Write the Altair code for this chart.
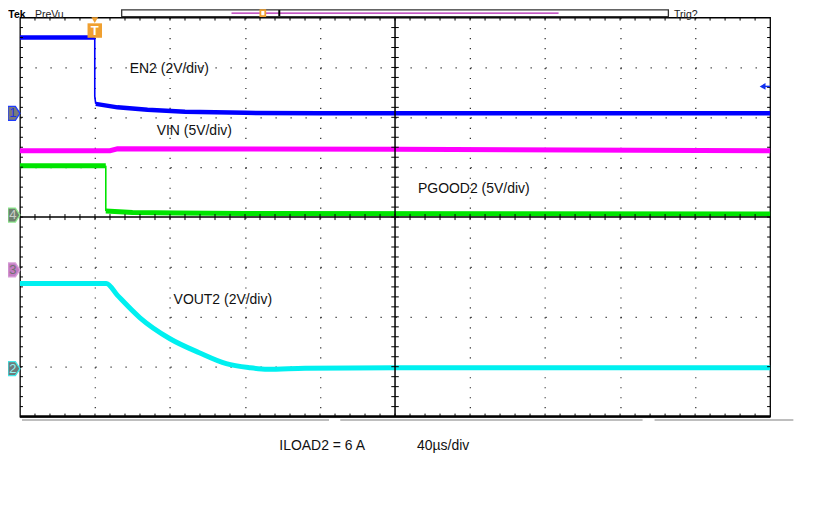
import altair as alt
import pandas as pd

# ---------------- trace data (x: time divisions 0-10, y: screen divisions 0-8) -------------
en2_hi_x = [0.0, 0.997]
en2_hi_y = [7.6, 7.6]
en2_edge_x = [0.997, 0.997, 1.01]
en2_edge_y = [7.6, 6.42, 6.27]
en2_lo_x = [1.01, 1.3, 1.7, 2.2, 3.0, 4.0, 10.0]
en2_lo_y = [6.27, 6.2, 6.15, 6.11, 6.09, 6.08, 6.08]

vin_x = [0.0, 1.2, 1.3, 5.0, 10.0]
vin_y = [5.33, 5.33, 5.37, 5.36, 5.33]

pg_hi_x = [0.0, 1.144]
pg_hi_y = [5.03, 5.03]
pg_edge_x = [1.144, 1.144]
pg_edge_y = [5.03, 4.12]
pg_lo_x = [1.144, 1.5, 2.1, 3.0, 10.0]
pg_lo_y = [4.12, 4.09, 4.08, 4.07, 4.06]

vout_x = [0.0, 1.15, 1.3, 1.6, 2.0, 2.39, 2.75, 3.06, 3.3, 3.8, 5.0, 10.0]
vout_y = [2.67, 2.67, 2.43, 1.98, 1.56, 1.28, 1.06, 0.98, 0.95, 0.97, 0.98, 0.98]

trace_names = ["EN2", "VIN", "PGOOD2", "VOUT2"]
trace_colors = ["#0000FF", "#FF00FF", "#00E400", "#00F0F0"]

# annotation texts
label_text = ["EN2 (2V/div)", "VIN (5V/div)", "PGOOD2 (5V/div)", "VOUT2 (2V/div)",
              "ILOAD2 = 6 A", "40µs/div"]
label_x = [1.463, 1.822, 5.306, 2.048, 3.457, 5.293]
label_y = [6.96, 5.72, 4.56, 2.34, -0.6, -0.6]

# channel ground markers
ch_text = ["1", "4", "3", "2"]
ch_y = [6.08, 4.04, 2.94, 0.96]
ch_fill = ["#7A7A7A", "#6F8070", "#C47CC4", "#6E7A7A"]
ch_stroke = ["#1E3CFF", "#8CE88C", "#D8A0D8", "#40E8E8"]
ch_tcolor = ["#1E32E6", "#C8D0C8", "#707070", "#8FF4F4"]

# ---------------- build tables ----------------
segments = [
    ("EN2", "en2_hi", en2_hi_x, en2_hi_y, 4.5),
    ("EN2", "en2_edge", en2_edge_x, en2_edge_y, 1.6),
    ("EN2", "en2_lo", en2_lo_x, en2_lo_y, 4.5),
    ("VIN", "vin", vin_x, vin_y, 5),
    ("PGOOD2", "pg_hi", pg_hi_x, pg_hi_y, 5),
    ("PGOOD2", "pg_edge", pg_edge_x, pg_edge_y, 1.6),
    ("PGOOD2", "pg_lo", pg_lo_x, pg_lo_y, 5),
]
rows = []
for tr, seg, xs, ys, w in segments:
    for i, (xv, yv) in enumerate(zip(xs, ys)):
        rows.append({"trace": tr, "seg": seg, "i": i, "x": xv, "y": yv, "w": w})
trace_df = pd.DataFrame(rows)
vout_df = pd.DataFrame({"x": vout_x, "y": vout_y, "trace": "VOUT2"})

XS = alt.Scale(domain=[0, 10], nice=False, zero=False)
YS = alt.Scale(domain=[0, 8], nice=False, zero=False)
CS = alt.Scale(domain=trace_names, range=trace_colors)


def X(f="x"):
    return alt.X(f"{f}:Q", scale=XS, title=None,
                 axis=alt.Axis(values=[1, 2, 3, 4, 6, 7, 8, 9], grid=True, gridColor="#000",
                               gridDash=[1.2, 8.8], gridWidth=1.2, gridOpacity=0.85,
                               labels=False, ticks=False, domain=False))


def Y(f="y"):
    return alt.Y(f"{f}:Q", scale=YS, title=None,
                 axis=alt.Axis(values=[1, 2, 3, 5, 6, 7], grid=True, gridColor="#000",
                               gridDash=[1.2, 13.84], gridWidth=1.2, gridOpacity=0.85,
                               labels=False, ticks=False, domain=False))


# graticule ticks (edges and center cross)
minor_x = [k * 0.2 for k in range(1, 50)]
minor_y = [k * 0.2 for k in range(1, 40)]
vt = []  # vertical short rules: x, y, y2
for xv in minor_x:
    vt.append({"x": xv, "y": 8.0, "y2": 7.94})
    vt.append({"x": xv, "y": 0.0, "y2": 0.06})
    vt.append({"x": xv, "y": 3.94, "y2": 4.06})
ht = []  # horizontal short rules: x, x2, y
for yv in minor_y:
    ht.append({"x": 0.0, "x2": 0.04, "y": yv})
    ht.append({"x": 10.0, "x2": 9.96, "y": yv})
    ht.append({"x": 4.95, "x2": 5.05, "y": yv})

tick_v = alt.Chart(pd.DataFrame(vt)).mark_rule(color="#000", strokeWidth=1).encode(
    x=X(), y=Y(), y2="y2:Q")
tick_h = alt.Chart(pd.DataFrame(ht)).mark_rule(color="#000", strokeWidth=1).encode(
    x=X(), x2="x2:Q", y=Y())

center = alt.Chart(pd.DataFrame([
    {"x": 5.0, "x2": 5.0, "y": 0.0, "y2": 8.0},
    {"x": 0.0, "x2": 10.0, "y": 4.0, "y2": 4.0},
])).mark_rule(color="#000", strokeWidth=1.5).encode(x=X(), x2="x2:Q", y=Y(), y2="y2:Q")

bottom = alt.Chart(pd.DataFrame([{"x": 0.0, "x2": 10.0, "y": 0.0}])).mark_rule(
    color="#000", strokeWidth=2.5).encode(x=X(), x2="x2:Q", y=Y())

under = alt.Chart(pd.DataFrame({"x": [0.027, 4.27, 8.46], "x2": [4.12, 8.30, 10.31],
                                "y": [-0.07, -0.07, -0.07]})).mark_rule(
    color="#A8A8A8", strokeWidth=1.5).encode(x=X(), x2="x2:Q", y=Y())

lines = alt.Chart(trace_df).mark_line(strokeCap="butt", strokeJoin="miter").encode(
    x=X(), y=Y(),
    color=alt.Color("trace:N", scale=CS, legend=None),
    detail="seg:N",
    strokeWidth=alt.StrokeWidth("w:Q", scale=None),
    order="i:Q",
)
vout_line = alt.Chart(vout_df).mark_line(interpolate="monotone", strokeWidth=5,
                                         strokeCap="butt").encode(
    x=X(), y=Y(), color=alt.Color("trace:N", scale=CS, legend=None))

labels = alt.Chart(pd.DataFrame({"t": label_text, "x": label_x, "y": label_y})).mark_text(
    align="left", baseline="middle", font="Liberation Sans", fontSize=14, color="#111"
).encode(x=X(), y=Y(), text="t:N")

# channel markers at left edge
ch_df = pd.DataFrame({"t": ch_text, "y": ch_y, "x": [-0.08] * 4,
                      "fill": ch_fill, "stroke": ch_stroke, "tc": ch_tcolor})
ch_shape = "M -0.86 -1 L 0.2 -1 L 0.86 0 L 0.2 1 L -0.86 1 Z"
ch_marks = alt.Chart(ch_df).mark_point(shape=ch_shape, size=196, filled=True,
                                       strokeWidth=1.3, opacity=1).encode(
    x=X(), y=Y(),
    fill=alt.Fill("fill:N", scale=None),
    stroke=alt.Stroke("stroke:N", scale=None))
ch_txt = alt.Chart(ch_df).mark_text(align="center", baseline="middle", font="Liberation Sans",
                                    fontSize=13, dx=-1).encode(
    x=X(), y=Y(), text="t:N", color=alt.Color("tc:N", scale=None))

# trigger position marker
trig_df = pd.DataFrame({"x": [0.997], "y": [7.74], "y_tri": [7.95], "t": ["T"]})
trig_box = alt.Chart(trig_df).mark_point(shape="square", size=210, filled=True,
                                         color="#F0A030", opacity=1).encode(x=X(), y=Y())
trig_tri = alt.Chart(trig_df).mark_point(shape="triangle-down", size=45, filled=True,
                                         color="#F0A030", opacity=1).encode(x=X(), y=Y("y_tri"))
trig_t = alt.Chart(trig_df).mark_text(font="Liberation Sans", fontWeight="bold", fontSize=13,
                                      color="white", baseline="middle").encode(
    x=X(), y=Y(), text="t:N")

# trigger level arrow at right
lvl_df = pd.DataFrame({"x": [9.9], "x2": [10.0], "y": [6.62]})
lvl_tri = alt.Chart(lvl_df).mark_point(shape="triangle-left", size=45, filled=True,
                                       color="#1030F0", opacity=1).encode(x=X(), y=Y())
lvl_line = alt.Chart(lvl_df).mark_rule(color="#1030F0", strokeWidth=1.5).encode(
    x=X(), x2="x2:Q", y=Y())

# header bar
box = alt.Chart(pd.DataFrame({"x": [1.356], "x2": [8.644], "y": [8.155], "y2": [8.02]})
                ).mark_rect(fill="white", stroke="#333", strokeWidth=1.3).encode(
    x=X(), x2="x2:Q", y=Y(), y2="y2:Q")
box_line = alt.Chart(pd.DataFrame({"x": [2.82], "x2": [7.18], "y": [8.09]})).mark_rule(
    color="#B020B0", strokeWidth=1.2).encode(x=X(), x2="x2:Q", y=Y())
brk_o = alt.Chart(pd.DataFrame({"x": [3.205], "x2": [3.27], "y": [8.15], "y2": [8.03]})
                  ).mark_rect(fill="white", stroke="#F0A030", strokeWidth=1.8).encode(
    x=X(), x2="x2:Q", y=Y(), y2="y2:Q")
brk_k = alt.Chart(pd.DataFrame({"x": [3.457], "y": [8.15], "y2": [8.03]})).mark_rule(
    color="#000", strokeWidth=2).encode(x=X(), y=Y(), y2="y2:Q")

head_df = pd.DataFrame({"t": ["PreVu", "Trig?"], "x": [0.2, 8.72], "y": [7.995, 7.995]})
head = alt.Chart(head_df).mark_text(align="left", baseline="alphabetic",
                                    font="Liberation Sans", fontSize=10.5, color="#222").encode(
    x=X(), y=Y(), text="t:N")
tek = alt.Chart(pd.DataFrame({"t": ["Tek"], "x": [-0.155], "y": [7.995]})).mark_text(
    align="left", baseline="alphabetic", font="Liberation Sans", fontWeight="bold",
    fontSize=10.5, color="#000").encode(x=X(), y=Y(), text="t:N")

chart = alt.layer(
    lines, vout_line, tick_v, tick_h, center, bottom, under, labels, ch_marks, ch_txt,
    trig_tri, trig_box, trig_t, lvl_line, lvl_tri, box, box_line, brk_o, brk_k, head, tek,
).properties(
    width=752, height=400,
    autosize=alt.AutoSizeParams(type="none"),
    padding={"left": 12, "top": 9, "right": 40, "bottom": 70},
    background="white",
).configure_view(stroke="#000", strokeWidth=1.3)

chart.save("out.html", embed_options={"renderer": "svg", "actions": False})
